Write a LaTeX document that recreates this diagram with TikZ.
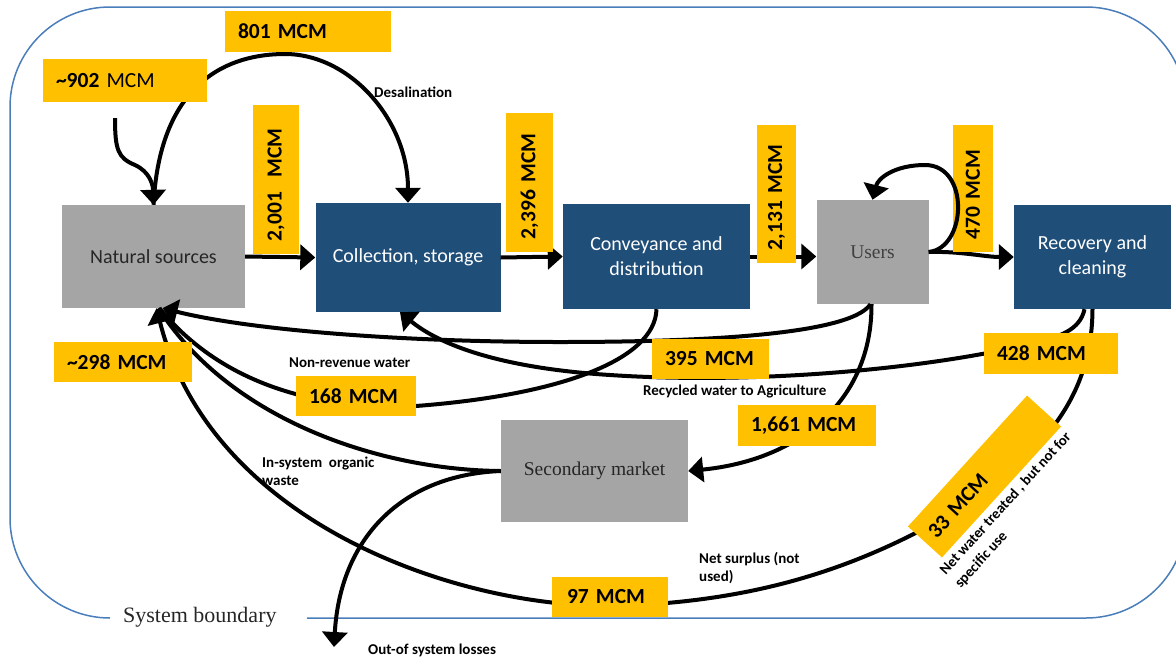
\documentclass[tikz,border=0pt]{standalone}
\usepackage{fontspec}
\setmainfont{Carlito}
\newfontfamily\serifff{Liberation Serif}
\usetikzlibrary{arrows.meta,calc}
\definecolor{ybox}{HTML}{FFC000}
\definecolor{dblue}{HTML}{1F4E79}
\definecolor{gbox}{HTML}{A5A5A5}
\definecolor{bnd}{HTML}{4A7EBB}
\definecolor{gtext}{HTML}{262626}
\begin{document}
\begin{tikzpicture}[x=1pt,y=-1pt,
  flow/.style={line width=4pt, draw=black},
  arr/.style={flow, -{Triangle[length=15pt,width=25pt]}},
  bluebox/.style={fill=dblue, text=white, font=\fontsize{20}{25}\selectfont, align=center, inner sep=0pt},
  greybox/.style={fill=gbox, inner sep=0pt, text=gtext},
  ylab/.style={fill=ybox, font=\bfseries\fontsize{21.5}{25}\selectfont, inner xsep=13pt, inner ysep=0pt, align=left},
  note/.style={font=\bfseries\fontsize{15}{18}\selectfont, inner sep=0pt, align=left},
]
\useasboundingbox (0,0) rectangle (1176,657);
% system boundary
\draw[bnd, line width=1.5pt, rounded corners=100pt] (307,618) -- (1186,618) -- (1186,7) -- (10,7) -- (10,618) -- (110,618);
\node[anchor=base west, inner sep=0pt, font=\serifff\fontsize{22}{26}\selectfont, text=black!85] (sb) at (123,622) {System boundary};

% main boxes
\node[greybox, minimum width=183pt, minimum height=103pt, font=\fontsize{20}{24}\selectfont] (nat) at (153.5,256.5) {Natural sources};
\node[bluebox, minimum width=185pt, minimum height=109pt] (col) at (408,257.5) {Collection, storage};
\node[bluebox, minimum width=187pt, minimum height=105pt] (conv) at (656.5,256.5) {Conveyance and\\distribution};
\node[greybox, minimum width=112pt, minimum height=104pt, text=black!75, font=\serifff\fontsize{19.5}{24}\selectfont] (users) at (872.5,252) {Users};
\node[bluebox, minimum width=157pt, minimum height=104pt] (rec) at (1092.5,257) {Recovery and\\cleaning};
\node[greybox, minimum width=187pt, minimum height=102pt, font=\serifff\fontsize{19.5}{24}\selectfont] (sec) at (594.5,471) {Secondary market};

\coordinate (src) at (115,118);
\coordinate (loss) at (334,647);

% connectors
\draw[arr] (src) .. controls (115,150) and (118,158) .. (135,165) .. controls (150,172) and (153,185) .. (nat.north);
\draw[arr] (nat.north) .. controls (160,80) and (230,54) .. (285,54) .. controls (350,54) and (408,120) .. (col.north);
\draw[arr] (nat.east) -- (col.west);
\draw[arr] (col.east) -- (conv.west);
\draw[arr] (conv.east) -- (conv.east -| users.west);
\draw[arr] (users.east) .. controls (960,251) and (985,257) .. (rec.west);
\draw[arr] ([xshift=-8pt]rec.south) .. controls (1080,330) and (1060,337) .. (1030,344) .. controls (930,368) and (760,385) .. (610,375) .. controls (500,368) and (440,345) .. ([xshift=-8pt]col.south);
\draw[flow] (conv.south) .. controls (655,360) and (560,395) .. (416,406) .. controls (340,410) and (230,395) .. ([xshift=6pt]nat.south);
\draw[flow] (sec.west) .. controls (380,470) and (230,420) .. ([xshift=5pt]nat.south);
\draw[arr] (rec.south) .. controls (1092,400) and (1040,460) .. (940,520) .. controls (850,570) and (750,603) .. (610,606) .. controls (450,606) and (210,520) .. ([xshift=3pt]nat.south);
\draw[arr] ([xshift=-2pt]users.south) .. controls (850,335) and (700,342) .. (560,342) .. controls (400,342) and (250,330) .. ([xshift=9pt]nat.south);
\draw[arr] ([xshift=-1pt]users.south) .. controls (872,400) and (800,460) .. (sec.east);
\draw[arr] (sec.west) .. controls (400,475) and (340,540) .. (loss);

% value labels
\node[ylab, text width=140pt, minimum height=41pt] (l801) at (308,31.5) {801 MCM};
\node[ylab, text width=138pt, minimum height=43pt] (l902) at (125,80.5) {\textasciitilde902 {\mdseries MCM}};
\node[ylab, rotate=90, text width=123pt, minimum height=46pt] (l2001) at (276,179.5) {2,001\ \ MCM};
\node[ylab, rotate=90, text width=113pt, minimum height=47pt] (l2396) at (529.5,182.5) {2,396 MCM};
\node[ylab, rotate=90, text width=112pt, minimum height=39pt] (l2131) at (776.5,194) {2,131 MCM};
\node[ylab, rotate=90, text width=101pt, minimum height=40pt] (l470) at (973,188.5) {470 MCM};
\node[ylab, text width=112pt, minimum height=40pt] (l298) at (123,362) {\textasciitilde298 MCM};
\node[ylab, text width=94pt, minimum height=40pt] (l168) at (356,396) {168 MCM};
\node[ylab, text width=91pt, minimum height=40pt] (l395) at (710.5,359) {395 MCM};
\node[ylab, text width=108pt, minimum height=41pt] (l428) at (1051,353.5) {428 MCM};
\node[ylab, text width=112pt, minimum height=41pt] (l1661) at (807,425.5) {1,661 MCM};
\node[ylab, inner xsep=15pt, text width=86pt, minimum height=40pt] (l97) at (610,597) {97 MCM};
\node[ylab, rotate=47.7, inner xsep=10pt, text width=157pt, minimum height=46pt] (l33) at (984.5,476.5) {33 MCM};

% self loop on users
\draw[arr] (users.east) .. controls (967,248) and (970,165) .. (925,165) .. controls (895,165) and (878,178) .. (users.north);

% notes
\node[note, anchor=base west] (tdes) at (374,97) {Desalination};
\node[note, anchor=base west] (tnrw) at (289,367) {Non-revenue water};
\node[note, anchor=base west] (trec) at (643,395) {Recycled water to Agriculture};
\node[note, anchor=north west] (torg) at (262,457) {In-system\ \ organic\\waste};
\node[note, anchor=north west] (tsur) at (699,552) {Net surplus (not\\used)};
\node[note, anchor=base west] (tout) at (368,654) {Out-of system losses};
\node[note, anchor=north west, rotate=47.7, font=\bfseries\fontsize{14.8}{20}\selectfont] (tnet) at (938,568.5) {Net water treated , but not for\\specific use};
\end{tikzpicture}
\end{document}
